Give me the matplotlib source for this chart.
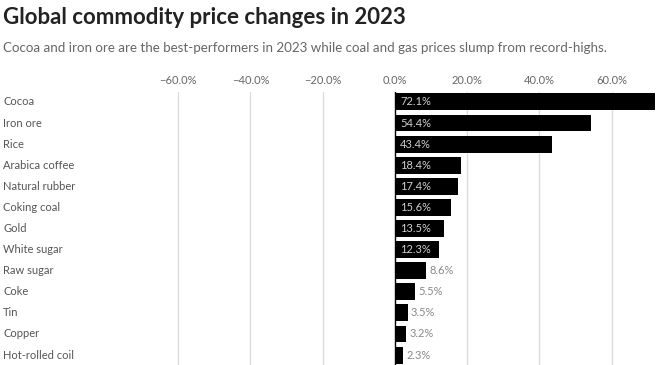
import matplotlib.pyplot as plt
from matplotlib.transforms import blended_transform_factory

commodities = ["Cocoa", "Iron ore", "Rice", "Arabica coffee", "Natural rubber",
               "Coking coal", "Gold", "White sugar", "Raw sugar", "Coke",
               "Tin", "Copper", "Hot-rolled coil"]
changes = [72.1, 54.4, 43.4, 18.4, 17.4, 15.6, 13.5, 12.3, 8.6, 5.5, 3.5, 3.2, 2.3]
xticks = [-60, -40, -20, 0, 20, 40, 60]

plt.rcParams['font.family'] = ['Lato', 'DejaVu Sans']

W, H = 658, 365
fig = plt.figure(figsize=(W / 100, H / 100), dpi=100)

# axes placed in pixel terms: left 140, right 658, top 92, bottom 365
ax = fig.add_axes([140 / W, 0, (658 - 140) / W, (365 - 92) / H])
ax.set_xlim(-70.6, 72.85)
ax.set_ylim(len(commodities) - 1 + 0.47, -0.47)

y = list(range(len(commodities)))
ax.barh(y, changes, height=0.8, color="#000000", zorder=3)

for gx in xticks:
    if gx == 0:
        ax.axvline(0, color="#000000", lw=1, zorder=4)
    else:
        ax.axvline(gx, color="#dcdcdc", lw=1, zorder=1)

for i, v in enumerate(changes):
    if v > 11:
        ax.text(1.4, i, f"{v}%", va="center", ha="left", color="#d0d0d0",
                fontsize=8, zorder=5)
    else:
        ax.text(v + 0.9, i, f"{v}%", va="center", ha="left", color="#888888",
                fontsize=8, zorder=5)

ax.xaxis.tick_top()
ax.set_xticks(xticks)
ax.set_xticklabels([f"{t:.1f}%".replace("-", "\u2212") for t in xticks],
                   color="#666666", fontsize=8)
ax.tick_params(axis="x", length=0, pad=4)
ax.set_yticks([])
for s in ax.spines.values():
    s.set_visible(False)

trans = blended_transform_factory(fig.transFigure, ax.transData)
for i, name in enumerate(commodities):
    ax.text(3 / W, i, name, transform=trans, va="center", ha="left",
            color="#555555", fontsize=8)

fig.text(3 / W, 1 - 18 / H, "Global commodity price changes in 2023",
         fontsize=16, fontweight="bold", color="#222222", va="center", ha="left")
fig.text(3 / W, 1 - 48 / H,
         "Cocoa and iron ore are the best-performers in 2023 while coal and gas prices slump from record-highs.",
         fontsize=9.6, color="#666666", va="center", ha="left")

fig.savefig("out.png", dpi=100)
